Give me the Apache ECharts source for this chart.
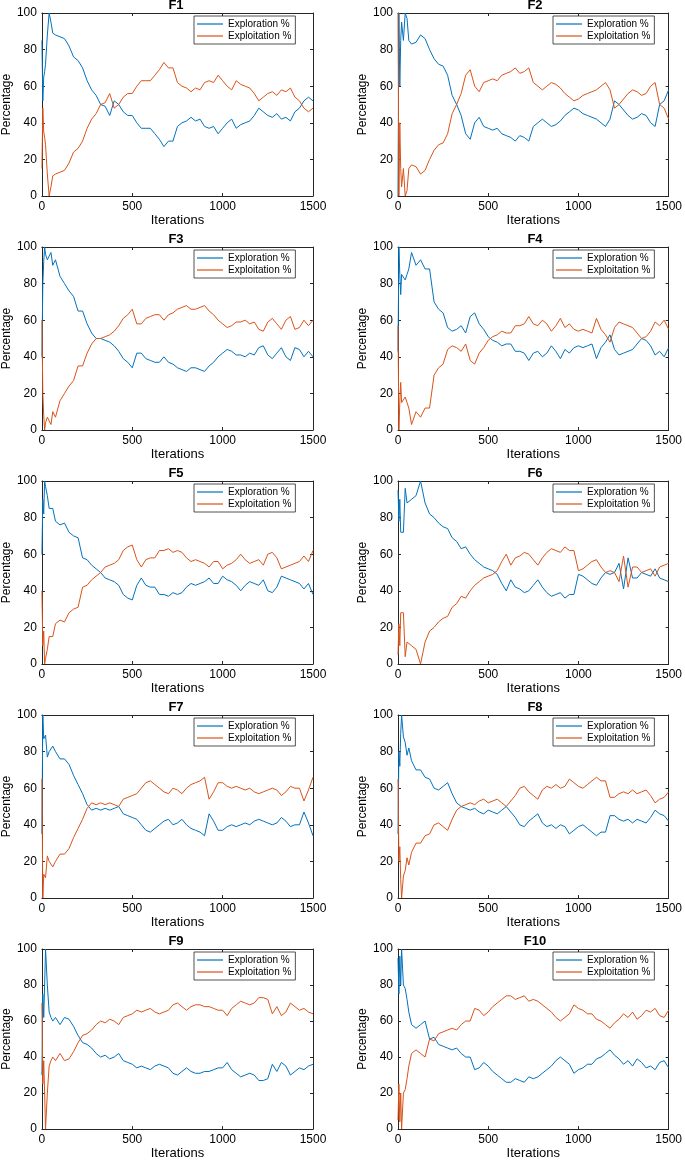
<!DOCTYPE html>
<html><head><meta charset="utf-8">
<script src="https://cdn.jsdelivr.net/npm/echarts@6/dist/echarts.min.js"></script>
<style>html,body{margin:0;padding:0;background:#fff}#c{width:685px;height:1161px}</style>
</head><body><div id="c"></div>
<script>
// sample iterations (x values)
const iterations = [0,5,10,15,20,30,40,50,60,75,
  100,125,150,175,200,225,250,275,300,325,350,375,400,425,450,475,
  500,525,550,575,600,625,650,675,700,725,750,775,800,825,850,875,900,925,950,975,
  1000,1025,1050,1075,1100,1125,1150,1175,1200,1225,1250,1275,1300,1325,1350,1375,1400,1425,1450,1475,1500];
const titles = ['F1','F2','F3','F4','F5','F6','F7','F8','F9','F10'];
const xTickLabels = [0,500,1000,1500];
const yTickLabels = [0,20,40,60,80,100];
const seriesNames = ['Exploration %','Exploitation %'];

const exploreF1 = [85,52,65,68,72,88,100,95,89,88,
  87,86,82,76,74,70,63,58,55,50,49,44,52,50,46,44,
  44,40,37,37,37,34,31,27,30,30,38,40,41,43,41,42,38,37,38,34,
  37,40,42,37,39,40,41,44,48,46,44,43,45,42,43,41,46,48,52,54,52];
const exploitF1 = [15,48,35,32,28,12,0,5,11,12,
  13,14,18,24,26,30,37,42,45,50,51,56,48,50,54,56,
  56,60,63,63,63,66,69,73,70,70,62,60,59,57,59,58,62,63,62,66,
  63,60,58,63,61,60,59,56,52,54,56,57,55,58,57,59,54,52,48,46,48];

const exploreF2 = [0,100,60,85,95,85,100,97,85,83,
  84,88,86,80,75,72,71,66,55,50,44,34,31,40,43,38,
  37,36,37,34,33,32,30,33,32,30,38,40,42,40,38,39,41,44,46,48,
  47,45,44,43,42,40,38,42,52,50,47,44,42,43,45,44,40,38,50,52,58];
const exploitF2 = [100,0,40,15,5,15,0,3,15,17,
  16,12,14,20,25,28,29,34,45,50,56,66,69,60,57,62,
  63,64,63,66,67,68,70,67,68,70,62,60,58,60,62,61,59,56,54,52,
  53,55,56,57,58,60,62,58,48,50,53,56,58,57,55,56,60,62,50,48,42];

const exploreF3 = [40,80,92,100,96,93,95,97,90,93,
  84,80,76,73,65,65,58,53,50,50,49,48,46,43,39,37,
  34,42,42,39,38,37,37,40,37,36,34,33,32,34,34,33,32,35,37,40,
  42,44,43,41,41,40,42,41,45,46,41,39,42,45,40,38,45,44,40,43,40];
const exploitF3 = [60,20,8,0,4,7,5,3,10,7,
  16,20,24,27,35,35,42,47,50,50,51,52,54,57,61,63,
  66,58,58,61,62,63,63,60,63,64,66,67,68,66,66,67,68,65,63,60,
  58,56,57,59,59,60,58,59,55,54,59,61,58,55,60,62,55,56,60,57,60];

const exploreF4 = [43,100,85,74,85,84,82,85,88,97,
  90,93,88,88,70,66,64,56,54,55,57,53,62,64,58,55,
  51,49,48,46,47,47,43,43,42,38,42,43,40,42,46,43,39,44,42,45,
  46,45,46,47,39,45,48,52,44,41,42,43,44,47,50,49,46,41,43,40,45];
const exploitF4 = [57,0,15,26,15,16,18,15,12,3,
  10,7,12,12,30,34,36,44,46,45,43,47,38,36,42,45,
  49,51,52,54,53,53,57,57,58,62,58,57,60,58,54,57,61,56,58,55,
  54,55,54,53,61,55,52,48,56,59,58,57,56,53,50,51,54,59,57,60,55];

const exploreF5 = [60,90,82,100,97,92,85,84,85,78,
  76,77,72,70,69,58,57,54,52,50,47,46,45,43,38,36,
  35,43,47,43,42,42,38,38,37,39,38,39,42,44,43,44,45,47,44,44,
  48,46,45,43,40,43,45,44,43,46,40,39,42,48,47,46,45,44,41,44,38];
const exploitF5 = [40,10,18,0,3,8,15,16,15,22,
  24,23,28,30,31,42,43,46,48,50,53,54,55,57,62,64,
  65,57,53,57,58,58,62,62,63,61,62,61,58,56,57,56,55,53,56,56,
  52,54,55,57,60,57,55,56,57,54,60,61,58,52,53,54,55,56,59,56,62];

const exploreF6 = [95,78,90,72,72,72,96,88,88,90,
  92,100,88,82,80,77,75,74,69,67,63,64,60,57,55,53,
  52,51,49,44,40,46,42,41,39,40,43,46,42,39,37,38,39,36,38,38,
  49,48,46,44,43,47,50,49,50,55,41,58,47,47,50,49,48,52,47,46,45];
const exploitF6 = [5,22,10,28,28,28,4,12,12,10,
  8,0,12,18,20,23,25,26,31,33,37,36,40,43,45,47,
  48,49,51,56,60,54,58,59,61,60,57,54,58,61,63,62,61,64,62,62,
  51,52,54,56,57,53,50,51,50,45,59,42,53,53,50,51,52,48,53,54,55];

const exploreF7 = [35,100,87,88,89,77,80,79,83,80,
  76,76,73,67,62,57,51,48,49,48,49,48,49,50,46,45,
  44,43,40,37,36,38,40,42,43,40,41,43,40,38,37,36,34,46,42,37,
  37,39,40,39,40,41,40,42,43,42,41,40,41,44,42,39,40,40,47,41,34];
const exploitF7 = [65,0,13,12,11,23,20,21,17,20,
  24,24,27,33,38,43,49,52,51,52,51,52,51,50,54,55,
  56,57,60,63,64,62,60,58,57,60,59,57,60,62,63,64,66,54,58,63,
  63,61,60,61,60,59,60,58,57,58,59,60,59,56,58,61,60,60,53,59,66];

const exploreF8 = [35,80,72,90,100,88,85,78,82,75,
  70,70,66,65,60,59,61,63,57,52,50,49,48,49,47,46,
  48,47,46,48,50,47,44,40,39,42,44,46,41,39,40,38,40,39,35,37,
  39,40,38,36,34,36,36,45,45,43,42,43,41,43,42,41,44,48,46,45,42];
const exploitF8 = [65,20,28,10,0,12,15,22,18,25,
  30,30,34,35,40,41,39,37,43,48,50,51,52,51,53,54,
  52,53,54,52,50,53,56,60,61,58,56,54,59,61,60,62,60,61,65,63,
  61,60,62,64,66,64,64,55,55,57,58,57,59,57,58,59,56,52,54,55,58];

const exploreF9 = [30,75,62,80,100,80,65,62,60,62,
  58,62,61,57,52,48,47,45,42,40,41,39,40,42,38,37,
  36,34,35,34,33,35,36,35,34,31,30,32,34,32,31,31,32,32,33,34,
  34,37,33,31,29,30,31,30,27,27,28,36,32,37,35,30,32,34,33,35,36];
const exploitF9 = [70,25,38,20,0,20,35,38,40,38,
  42,38,39,43,48,52,53,55,58,60,59,61,60,58,62,63,
  64,66,65,66,67,65,64,65,66,69,70,68,66,68,69,69,68,68,67,66,
  66,63,67,69,71,70,69,70,73,73,72,64,68,63,65,70,68,66,67,65,64];

const exploreF10 = [95,75,96,80,100,80,78,72,65,58,
  56,58,60,50,51,47,46,45,44,45,42,40,40,33,34,37,
  35,32,30,28,26,26,28,27,26,29,28,29,31,33,35,38,40,38,36,31,
  33,34,36,36,39,40,42,44,41,39,36,38,35,39,37,34,35,33,37,38,34];
const exploitF10 = [5,25,4,20,0,20,22,28,35,42,
  44,42,40,50,49,53,54,55,56,55,58,60,60,67,66,63,
  65,68,70,72,74,74,72,73,74,71,72,71,69,67,65,62,60,62,64,69,
  67,66,64,64,61,60,58,56,59,61,64,62,65,61,63,66,65,67,63,62,66];

const exploreAll = [exploreF1,exploreF2,exploreF3,exploreF4,exploreF5,exploreF6,exploreF7,exploreF8,exploreF9,exploreF10];
const exploitAll = [exploitF1,exploitF2,exploitF3,exploitF4,exploitF5,exploitF6,exploitF7,exploitF8,exploitF9,exploitF10];

const colors = ['#0072BD','#D95319'];
const colLeft = [39, 398];
const rowTop = [13, 247, 481, 715, 949];
const gw = 274, gh = 183;
const axisColor = '#262626';
const font = '"Liberation Sans", Arial, Helvetica, sans-serif';

const grid = [], xAxis = [], yAxis = [], series = [], title = [], legend = [];
titles.forEach((t, i) => {
  const l = colLeft[i % 2], tp = rowTop[Math.floor(i / 2)];
  grid.push({left: l, top: tp, width: gw, height: gh, show: false});
  title.push({text: t, left: l + gw / 2, top: tp - 14, textAlign: 'center', padding: 0,
    textStyle: {fontSize: 13, fontWeight: 'bold', color: '#000', fontFamily: font}});
  const xBase = {type: 'value', gridIndex: i, min: xTickLabels[0], max: xTickLabels[xTickLabels.length - 1], interval: 500,
    splitLine: {show: false},
    axisLine: {show: true, onZero: false, lineStyle: {color: axisColor, width: 1}},
    axisTick: {show: true, inside: true, length: 3, lineStyle: {color: axisColor}}};
  const yBase = {type: 'value', gridIndex: i, min: yTickLabels[0], max: yTickLabels[yTickLabels.length - 1], interval: 20,
    splitLine: {show: false},
    axisLine: {show: true, onZero: false, lineStyle: {color: axisColor, width: 1}},
    axisTick: {show: true, inside: true, length: 3, lineStyle: {color: axisColor}}};
  xAxis.push(Object.assign({}, xBase, {position: 'bottom', name: 'Iterations', nameLocation: 'middle', nameGap: 17,
    nameTextStyle: {fontSize: 13, color: '#000', fontFamily: font},
    axisLabel: {fontSize: 12, color: '#000', margin: 5, fontFamily: font, formatter: v => String(v)}}));
  xAxis.push(Object.assign({}, xBase, {position: 'top', axisLabel: {show: false}}));
  yAxis.push(Object.assign({}, yBase, {position: 'left', name: 'Percentage', nameLocation: 'middle', nameGap: 26,
    nameTextStyle: {fontSize: 12, color: '#000', fontFamily: font},
    axisLabel: {fontSize: 12, color: '#000', margin: 5, fontFamily: font, formatter: v => String(v)}}));
  yAxis.push(Object.assign({}, yBase, {position: 'right', axisLabel: {show: false}}));
  const sets = [exploreAll[i], exploitAll[i]];
  sets.forEach((arr, s) => {
    series.push({type: 'line', name: seriesNames[s], xAxisIndex: 2 * i, yAxisIndex: 2 * i,
      data: iterations.map((x, k) => [x, arr[k]]), symbol: 'none', showSymbol: false,
      lineStyle: {width: 1, color: colors[s]}, itemStyle: {color: colors[s]}, animation: false, z: 2});
  });
  legend.push({data: seriesNames, orient: 'vertical', left: l + 155, top: tp + 3,
    icon: 'rect', itemWidth: 26, itemHeight: 1.2, itemGap: 0, padding: [2, 4, 2, 3],
    borderColor: axisColor, borderWidth: 0.8, backgroundColor: '#fff', selectedMode: false,
    textStyle: {fontSize: 10, color: '#000', fontFamily: font, lineHeight: 12}});
});

const chart = echarts.init(document.getElementById('c'), null, {renderer: 'canvas'});
chart.setOption({animation: false, backgroundColor: '#fff', textStyle: {fontFamily: font},
  grid, xAxis, yAxis, series, title, legend});
</script>
</body></html>
